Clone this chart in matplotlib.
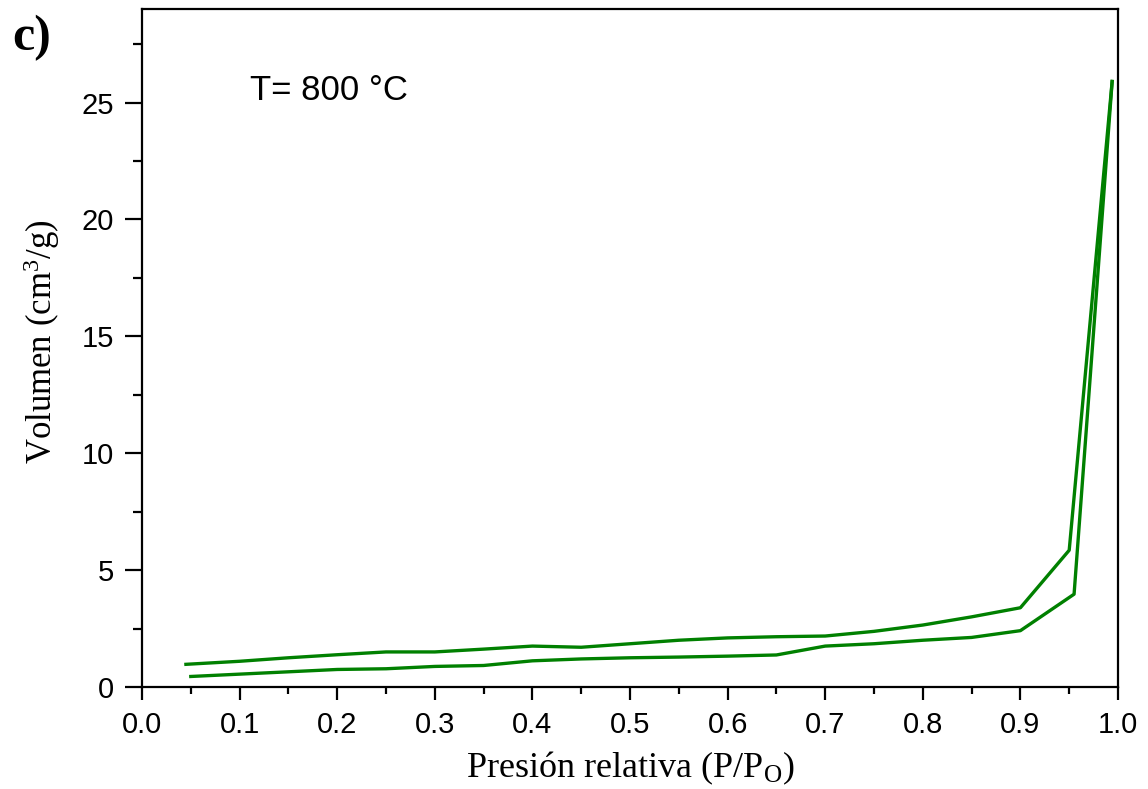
import matplotlib
matplotlib.use("Agg")
import matplotlib.pyplot as plt
from matplotlib.ticker import MultipleLocator

plt.rcParams['mathtext.fontset'] = 'custom'
plt.rcParams['mathtext.rm'] = 'Liberation Serif'
plt.rcParams['mathtext.it'] = 'Liberation Serif:italic'

# Desorption branch (upper)
x_des = [0.045, 0.10, 0.15, 0.20, 0.25, 0.30, 0.35, 0.40, 0.45, 0.50, 0.55, 0.60,
         0.65, 0.70, 0.75, 0.80, 0.85, 0.90, 0.95, 0.994]
y_des = [0.97, 1.10, 1.25, 1.38, 1.50, 1.50, 1.62, 1.75, 1.70, 1.85, 2.00, 2.10,
         2.15, 2.18, 2.38, 2.65, 3.00, 3.39, 5.85, 25.9]

# Adsorption branch (lower)
x_ads = [0.05, 0.10, 0.15, 0.20, 0.25, 0.30, 0.35, 0.40, 0.45, 0.50, 0.55, 0.60,
         0.65, 0.70, 0.75, 0.80, 0.85, 0.90, 0.955, 0.994]
y_ads = [0.45, 0.55, 0.65, 0.75, 0.78, 0.88, 0.92, 1.12, 1.20, 1.25, 1.28, 1.32,
         1.37, 1.75, 1.85, 2.00, 2.12, 2.41, 3.97, 25.9]

xticks = [0.0, 0.1, 0.2, 0.3, 0.4, 0.5, 0.6, 0.7, 0.8, 0.9, 1.0]
yticks = [0, 5, 10, 15, 20, 25]

fig = plt.figure(figsize=(11.48, 7.89), dpi=100)
ax = fig.add_axes([142/1148, 1 - 687/789, (1118-142)/1148, (687-9)/789])

green = '#008000'
ax.plot(x_des, y_des, color=green, lw=2.4)
ax.plot(x_ads, y_ads, color=green, lw=2.4)

ax.set_xlim(0, 1.0)
ax.set_ylim(0, 29)
ax.set_xticks(xticks)
ax.set_xticklabels([f"{v:.1f}" for v in xticks])
ax.set_yticks(yticks)
ax.set_yticklabels([str(v) for v in yticks])
ax.xaxis.set_minor_locator(MultipleLocator(0.05))
ax.yaxis.set_minor_locator(MultipleLocator(2.5))

for s in ax.spines.values():
    s.set_linewidth(1.6)
ax.tick_params(axis='x', which='major', direction='out', length=9, width=1.6,
               labelsize=21, pad=8, top=False)
ax.tick_params(axis='x', which='minor', direction='out', length=5, width=1.6, top=False)
ax.tick_params(axis='y', which='major', direction='out', length=12, width=1.6,
               labelsize=21, pad=8, right=False)
ax.tick_params(axis='y', which='minor', direction='out', length=6.5, width=1.6, right=False)
for lab in ax.get_xticklabels() + ax.get_yticklabels():
    lab.set_fontfamily('Liberation Sans')

ax.set_xlabel(r"Presión relativa (P/P$_\mathrm{O}$)", fontsize=26,
              fontfamily='Liberation Serif', va='baseline')
ax.xaxis.set_label_coords(0.5, (687-777)/678)
ax.set_ylabel(r"Volumen (cm$^\mathrm{3}$/g)", fontsize=25,
              fontfamily='Liberation Serif', va='center', ha='center')
ax.yaxis.set_label_coords((42-142)/976, (687-342)/678)

ax.text((250-142)/976, (687-100)/678, "T= 800 °C", transform=ax.transAxes, fontsize=25,
        fontfamily='Liberation Sans', va='baseline', ha='left')
fig.text(12/1148, 1 - 50/789, "c)", fontsize=36, fontweight='bold',
         fontfamily='Liberation Serif', va='baseline', ha='left')

fig.savefig("out.png", dpi=100)
